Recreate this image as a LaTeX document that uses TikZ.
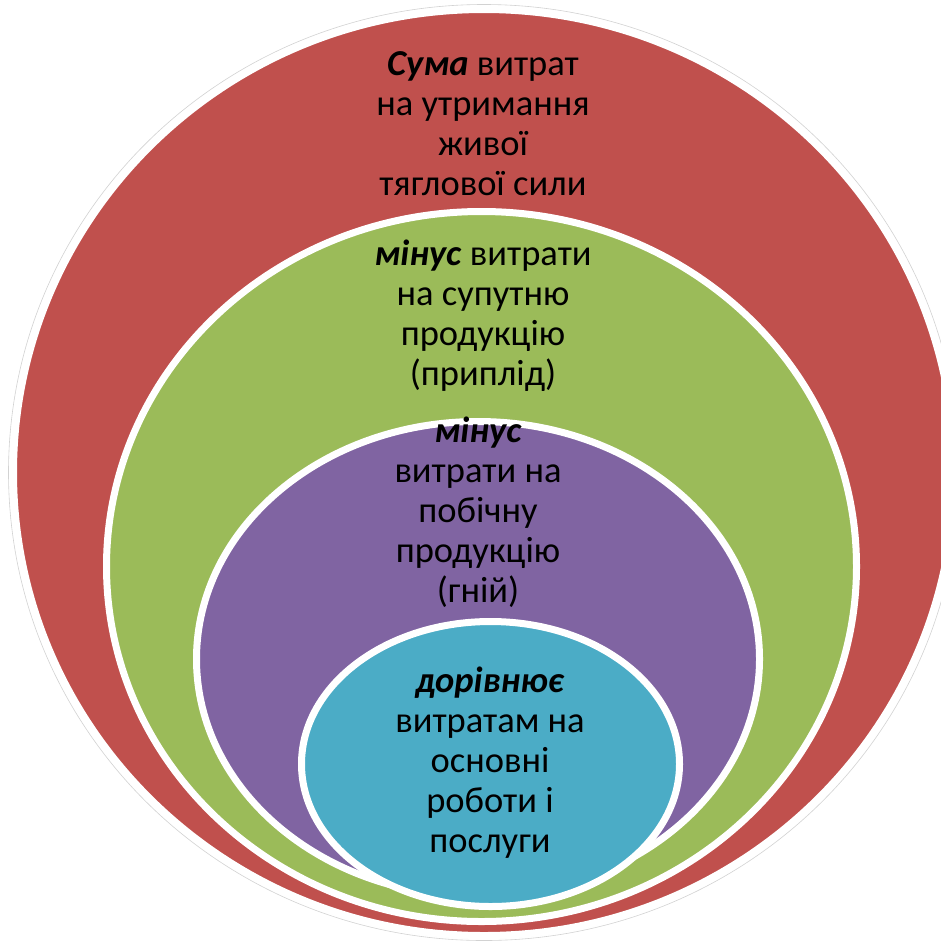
\documentclass[tikz,border=0pt]{standalone}
\usepackage{fontspec}
\setmainfont{Carlito}
\usetikzlibrary{shapes.geometric,shadows}
\definecolor{cred}{HTML}{C0504D}
\definecolor{cgreen}{HTML}{9BBB59}
\definecolor{cpurple}{HTML}{8064A2}
\definecolor{ccyan}{HTML}{4BACC6}
\tikzset{
  blob/.style={ellipse, draw=white, line width=7pt, inner sep=0pt, outer sep=0pt,
    drop shadow={opacity=0.22, shadow xshift=0pt, shadow yshift=-3pt}},
  lbl/.style={align=center, anchor=base, inner sep=0pt, text=black,
    font=\fontsize{36.5}{40}\selectfont},
}
\newcommand{\bi}[1]{\textbf{\textit{#1}}}
\begin{document}
\begin{tikzpicture}[x=1pt,y=-1pt]
\useasboundingbox (0,0) rectangle (941,940);
\fill[white] (0,0) rectangle (941,940);
\begin{scope}
\clip (0,0) rectangle (941,940);
\draw[gray!35, line width=0.6pt] (484,472.5) ellipse [x radius=475.5, y radius=468];
\node[blob, fill=cred, minimum width=941pt, minimum height=926pt] (red) at (484,472.5) {};
\node[blob, fill=cgreen, minimum width=750pt, minimum height=710pt] (green) at (481.5,566.5) {};
\node[blob, fill=cpurple, minimum width=563pt, minimum height=475pt] (purple) at (478,659) {};
\node[blob, fill=ccyan, minimum width=378pt, minimum height=285pt] (cyan) at (490.5,764) {};
\end{scope}
% base anchor of a multi-line node = baseline of its last line
\node[lbl] (tred) at (483,195) {\bi{Сума} витрат\\на утримання\\живої\\тяглової сили};
\node[lbl] (tgreen) at (483,385) {\bi{мінус} витрати\\на супутню\\продукцію\\(приплід)};
\node[lbl] (tpurple) at (478,602) {\bi{мінус}\\витрати на\\побічну\\продукцію\\(гній)};
\node[lbl] (tcyan) at (490,852) {\bi{дорівнює}\\витратам на\\основні\\роботи і\\послуги};
\end{tikzpicture}
\end{document}
